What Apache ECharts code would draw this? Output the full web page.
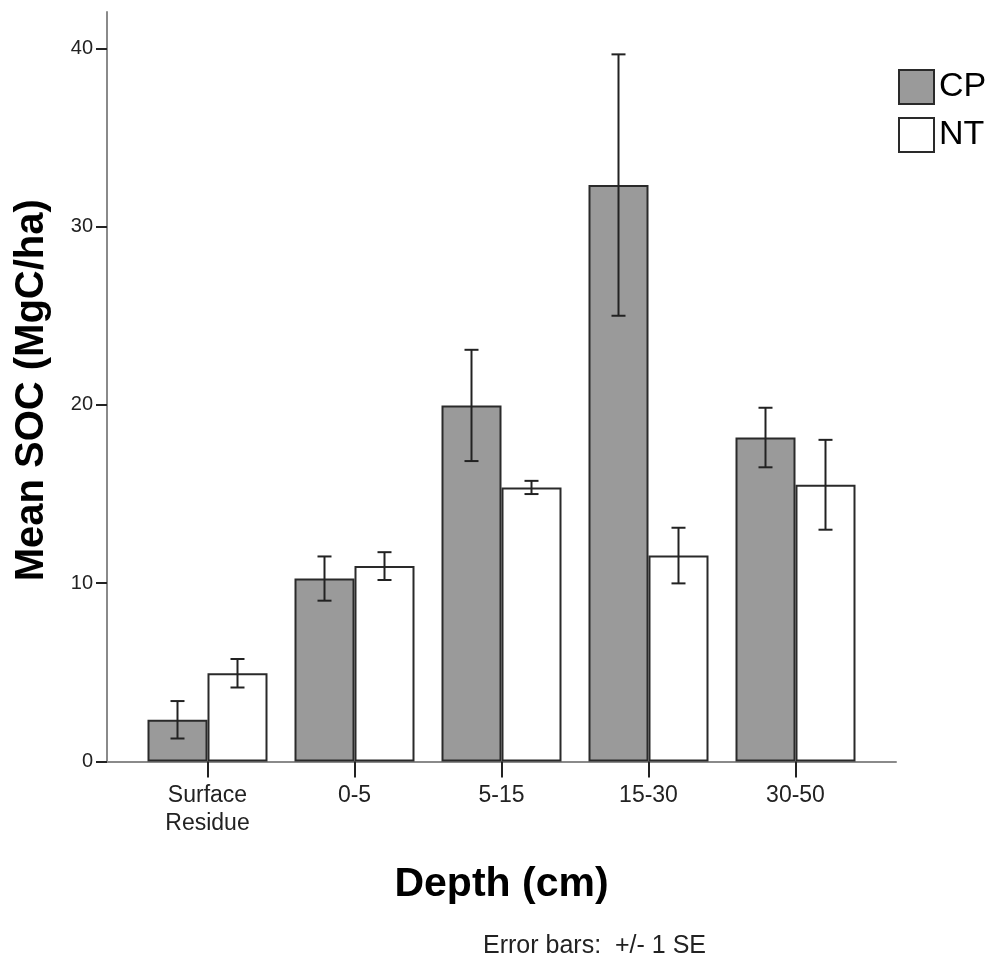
<!DOCTYPE html>
<html>
<head>
<meta charset="utf-8">
<script src="https://cdn.jsdelivr.net/npm/echarts@6/dist/echarts.min.js"></script>
<style>
  html, body { margin: 0; padding: 0; background: #fff; }
  #chart { width: 996px; height: 962px; }
</style>
</head>
<body>
<div id="chart"></div>
<script>
const depths = ['Surface\nResidue', '0-5', '5-15', '15-30', '30-50']
const seriesNames = ['CP', 'NT']
const cpMean = [2.34, 10.26, 19.97, 32.33, 18.17]
const cpSE = [1.05, 1.24, 3.12, 7.33, 1.67]
const ntMean = [4.95, 10.96, 15.37, 11.55, 15.52]
const ntSE = [0.8, 0.78, 0.37, 1.56, 2.52]
const yTicks = [0, 10, 20, 30, 40]

const FONT = "'Liberation Sans', Arial, sans-serif"
const BAR_W = 60

const chart = echarts.init(document.getElementById('chart'))

// error bar drawer, side = -1 (CP, left bar) or 1 (NT, right bar)
const errorBar = (side) => (params, api) => {
    const i = api.value(0)
    const hi = api.coord([i, api.value(1) + api.value(2)])
    const lo = api.coord([i, api.value(1) - api.value(2)])
    const x = hi[0] + side * BAR_W / 2
    const cap = 7
    const style = { stroke: '#222', lineWidth: 2 }
    return {
        type: 'group',
        children: [
            { type: 'line', shape: { x1: x, y1: hi[1], x2: x, y2: lo[1] }, style },
            { type: 'line', shape: { x1: x - cap, y1: hi[1], x2: x + cap, y2: hi[1] }, style },
            { type: 'line', shape: { x1: x - cap, y1: lo[1], x2: x + cap, y2: lo[1] }, style }
        ]
    }
}

const option = {
    backgroundColor: '#fff',
    animation: false,
    textStyle: { fontFamily: FONT },
    grid: [
        { left: 134, right: 127, top: 48.3, bottom: 200.5 },
        // frame for the long axis lines
        { left: 107, right: 100, top: 12, bottom: 200.5 }
    ],
    legend: {
        data: seriesNames,
        orient: 'vertical',
        left: 893,
        top: 64,
        itemWidth: 35,
        itemHeight: 34,
        itemGap: 12,
        icon: 'rect',
        textStyle: { fontSize: 34, color: '#000', fontFamily: FONT }
    },
    xAxis: [{
        type: 'category',
        gridIndex: 0,
        data: depths,
        axisLine: { show: false },
        axisTick: { show: true, alignWithLabel: true, length: 16, lineStyle: { color: '#222', width: 2 } },
        axisLabel: { fontSize: 23, color: '#222', margin: 20, lineHeight: 28, fontFamily: FONT },
        name: 'Depth (cm)',
        nameLocation: 'middle',
        nameGap: 103,
        nameTextStyle: { fontSize: 41, fontWeight: 'bold', color: '#000', fontFamily: FONT }
    }, {
        type: 'value',
        gridIndex: 1,
        min: 0,
        max: 1,
        axisLine: { show: true, lineStyle: { color: '#8a8a8a', width: 2 } },
        axisTick: { show: false },
        axisLabel: { show: false },
        splitLine: { show: false }
    }],
    yAxis: [{
        type: 'value',
        gridIndex: 0,
        min: 0,
        max: 40,
        interval: 10,
        offset: 27,
        axisLine: { show: false },
        axisTick: { show: true, length: 11, lineStyle: { color: '#222', width: 2 } },
        axisLabel: {
            fontSize: 20, color: '#222', margin: 14, fontFamily: FONT,
            formatter: v => yTicks.includes(v) ? String(v) : ''
        },
        splitLine: { show: false }
    }, {
        type: 'value',
        gridIndex: 1,
        min: 0,
        max: 1,
        axisLine: { show: true, lineStyle: { color: '#8a8a8a', width: 2 } },
        axisTick: { show: false },
        axisLabel: { show: false },
        splitLine: { show: false },
        name: 'Mean SOC (MgC/ha)',
        nameLocation: 'middle',
        nameGap: 55,
        nameTextStyle: { fontSize: 40, fontWeight: 'bold', color: '#000', fontFamily: FONT, padding: [0, 7, 0, 0] }
    }],
    graphic: [{
        type: 'text',
        left: 483,
        top: 934,
        style: { text: 'Error bars:  +/- 1 SE', font: "25px 'Liberation Sans', Arial, sans-serif", fill: '#222' }
    }],
    series: [{
        name: 'CP',
        type: 'bar',
        xAxisIndex: 0,
        yAxisIndex: 0,
        barWidth: BAR_W,
        barGap: '0%',
        data: cpMean,
        itemStyle: { color: '#9a9a9a', borderColor: '#2a2a2a', borderWidth: 2 }
    }, {
        name: 'NT',
        type: 'bar',
        xAxisIndex: 0,
        yAxisIndex: 0,
        barWidth: BAR_W,
        barGap: '0%',
        data: ntMean,
        itemStyle: { color: '#ffffff', borderColor: '#2a2a2a', borderWidth: 2 }
    }, {
        name: 'CP SE',
        type: 'custom',
        xAxisIndex: 0,
        yAxisIndex: 0,
        z: 10,
        renderItem: errorBar(-1),
        data: cpMean.map((m, i) => [i, m, cpSE[i]])
    }, {
        name: 'NT SE',
        type: 'custom',
        xAxisIndex: 0,
        yAxisIndex: 0,
        z: 10,
        renderItem: errorBar(1),
        data: ntMean.map((m, i) => [i, m, ntSE[i]])
    }]
}

chart.setOption(option)
</script>
</body>
</html>
